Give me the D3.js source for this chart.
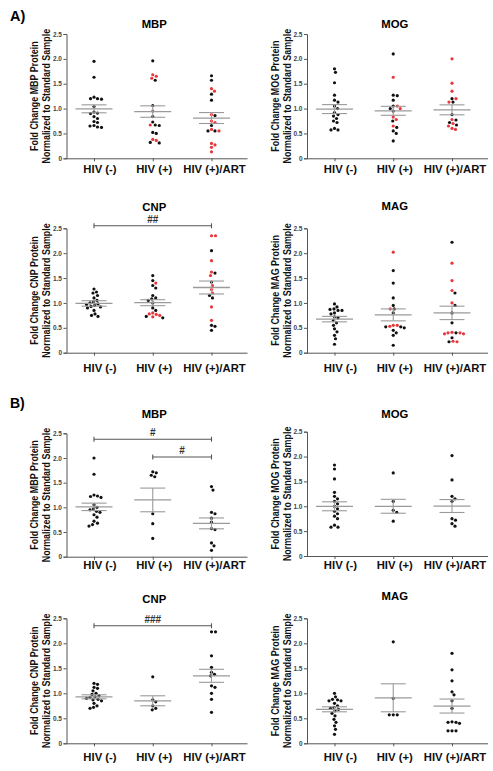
<!DOCTYPE html>
<html><head><meta charset="utf-8">
<script src="https://cdn.jsdelivr.net/npm/d3@7"></script>
<style>body{margin:0;background:#fff}svg{display:block}text{font-family:"Liberation Sans",Arial,sans-serif}</style>
</head><body><svg id="c" width="493" height="771"></svg>
<script>
const categories = ["HIV (-)", "HIV (+)", "HIV (+)/ART"];
const yTicks = [0, 0.5, 1.0, 1.5, 2.0, 2.5];
const yTickLabels = ["0", "0.5", "1.0", "1.5", "2.0", "2.5"];

// Panel A
const aMBP_black = [[1.95,1.63,1.23,1.2,1.2,1.19,1.04,0.93,0.91,0.9,0.84,0.8,0.74,0.72,0.66,0.65,0.63,0.62],
                    [1.96,1.57,1.06,0.84,0.73,0.67,0.66,0.52,0.5,0.32,0.31],
                    [1.66,1.57,1.29,1.17,0.86,0.66,0.55,0.55]];
const aMBP_red   = [[], [1.68,1.65,1.61,0.95,0.67,0.38,0.36], [1.40,1.35,0.88,0.75,0.72,0.58,0.55,0.3,0.27,0.22,0.13]];
const aMBP_mean = [0.995, 0.94, 0.81];
const aMBP_sem  = [0.08, 0.115, 0.11];

const aMOG_black = [[1.8,1.73,1.52,1.27,1.17,1.13,1.05,1.0,0.92,0.88,0.85,0.8,0.75,0.72,0.6,0.57,0.57],
                    [2.1,1.27,1.26,1.17,1.05,1.0,0.95,0.75,0.62,0.55,0.5,0.35],
                    [1.2,1.13,0.88,0.77,0.72,0.67]];
const aMOG_red   = [[], [1.63,1.05,1.0,0.83,0.78,0.65], [2.0,1.51,1.35,1.2,1.13,0.78,0.7,0.65,0.6,0.58]];
const aMOG_mean = [0.99, 0.955, 0.975];
const aMOG_sem  = [0.09, 0.09, 0.1];

const aCNP_black = [[1.28,1.22,1.2,1.15,1.1,1.05,1.02,1.0,0.98,0.97,0.95,0.93,0.92,0.9,0.85,0.78,0.75,0.73],
                    [1.55,1.45,1.35,1.3,1.15,1.1,1.08,1.05,1.0,0.9,0.85,0.73,0.7],
                    [2.05,1.6,1.42,1.15,1.1,0.55,0.53,0.45]];
const aCNP_red   = [[], [1.4,0.8,0.78,0.77,0.75,0.72], [2.35,2.35,1.85,1.62,1.55,1.35,1.27,1.2,0.92,0.65]];
const aCNP_mean = [0.99, 1.005, 1.31];
const aCNP_sem  = [0.055, 0.06, 0.13];

const aMAG_black = [[0.98,0.92,0.88,0.87,0.85,0.85,0.8,0.78,0.72,0.7,0.65,0.6,0.55,0.48,0.42,0.35,0.28,0.17],
                    [1.65,1.4,1.1,0.95,0.88,0.8,0.52,0.52,0.5,0.45,0.4,0.35,0.15],
                    [2.22,1.2,0.95,0.8,0.6,0.4,0.3,0.22]];
const aMAG_red   = [[], [2.02,0.88,0.55,0.55,0.53], [1.8,1.45,1.25,1.0,0.4,0.38,0.38,0.4,0.41,0.23,0.22]];
const aMAG_mean = [0.675, 0.76, 0.80];
const aMAG_sem  = [0.055, 0.12, 0.135];

// Panel B
const bMBP_black = [[2.0,1.67,1.25,1.23,1.22,1.2,1.05,1.0,0.97,0.95,0.92,0.9,0.85,0.8,0.72,0.68,0.65,0.62],
                    [1.72,1.7,1.65,1.62,0.87,0.67,0.37],
                    [1.42,1.35,0.9,0.87,0.78,0.7,0.57,0.55,0.28,0.22,0.13]];
const bMBP_mean = [1.01, 1.15, 0.675];
const bMBP_sem  = [0.075, 0.24, 0.11];

const bMOG_black = [[1.83,1.75,1.55,1.28,1.2,1.15,1.1,1.05,1.0,0.95,0.9,0.85,0.8,0.75,0.62,0.58,0.58],
                    [1.67,1.1,0.92,0.88,0.7],
                    [2.02,1.53,1.2,1.15,1.1,0.75,0.72,0.65,0.6]];
const bMOG_mean = [1.0, 1.0, 1.005];
const bMOG_sem  = [0.09, 0.14, 0.13];

const bCNP_black = [[1.2,1.18,1.12,1.1,1.05,1.0,0.98,0.95,0.93,0.92,0.9,0.88,0.87,0.85,0.8,0.75,0.72,0.7],
                    [1.33,0.87,0.83,0.75,0.7,0.67],
                    [2.23,2.23,1.75,1.52,1.42,1.38,1.35,1.15,1.12,1.0,0.88,0.62]];
const bCNP_mean = [0.93, 0.85, 1.35];
const bCNP_sem  = [0.04, 0.1, 0.13];

const bMAG_black = [[1.0,0.93,0.88,0.87,0.85,0.85,0.8,0.75,0.72,0.7,0.68,0.65,0.6,0.55,0.48,0.42,0.35,0.28,0.18],
                    [2.03,0.9,0.57,0.57,0.57],
                    [1.8,1.47,1.25,1.03,0.97,0.85,0.7,0.43,0.42,0.4,0.42,0.25,0.25,0.25]];
const bMAG_mean = [0.68, 0.91, 0.745];
const bMAG_sem  = [0.05, 0.28, 0.14];

// significance brackets: [from, to, level, label]
const aCNP_sig = [[0, 2, 2.55, "##"]];
const bMBP_sig = [[0, 2, 2.38, "#"], [1, 2, 2.02, "#"]];
const bCNP_sig = [[0, 2, 2.35, "###"]];

const none = [[], [], []];
const panels = [
  {t:"MBP", black:aMBP_black, red:aMBP_red, mean:aMBP_mean, sem:aMBP_sem, sig:[], side:0, top:34, bot:158.3, ty:28.3, ly:173.3},
  {t:"MOG", black:aMOG_black, red:aMOG_red, mean:aMOG_mean, sem:aMOG_sem, sig:[], side:1, top:34, bot:158.3, ty:28.3, ly:173.3},
  {t:"CNP", black:aCNP_black, red:aCNP_red, mean:aCNP_mean, sem:aCNP_sem, sig:aCNP_sig, side:0, top:228.3, bot:352.7, ty:211, ly:371.7},
  {t:"MAG", black:aMAG_black, red:aMAG_red, mean:aMAG_mean, sem:aMAG_sem, sig:[], side:1, top:228.3, bot:352.7, ty:209.5, ly:371.7},
  {t:"MBP", black:bMBP_black, red:none, mean:bMBP_mean, sem:bMBP_sem, sig:bMBP_sig, side:0, top:433.3, bot:556.7, ty:417.7, ly:569},
  {t:"MOG", black:bMOG_black, red:none, mean:bMOG_mean, sem:bMOG_sem, sig:[], side:1, top:431.7, bot:556, ty:417.7, ly:569},
  {t:"CNP", black:bCNP_black, red:none, mean:bCNP_mean, sem:bCNP_sem, sig:bCNP_sig, side:0, top:618.3, bot:743.3, ty:602.7, ly:761},
  {t:"MAG", black:bMAG_black, red:none, mean:bMAG_mean, sem:bMAG_sem, sig:[], side:1, top:618.3, bot:743.3, ty:600, ly:761}
];

const svg = d3.select("#c");
const RED = "#e8373a", GREY = "#9a9a9a", AX = "#555";
const axisX0 = [66.5, 307], axisW = 181;
const ylabX = [[34, 46], [275, 287]];
const labelShift = [6, 1.5, 3];

svg.append("text").attr("x", 10).attr("y", 20.7).attr("font-size", 14.5).attr("font-weight", "bold").text("A)");
svg.append("text").attr("x", 10).attr("y", 408.3).attr("font-size", 14).attr("font-weight", "bold").text("B)");

function swarm(items, y, cx) {
  const placed = [];
  const sorted = items.slice().sort((a, b) => b.v - a.v);
  const D = 3.6;
  sorted.forEach(it => {
    const py = y(it.v);
    let best = 0;
    for (let k = 0; k < 200; k++) {
      const off = (k % 2 ? 1 : -1) * Math.ceil(k / 2) * 0.5;
      const ok = placed.every(p => (p.px - (cx + off)) ** 2 + (p.py - py) ** 2 >= D * D);
      if (ok) { best = off; break; }
    }
    placed.push({px: cx + best, py, c: it.c});
  });
  return placed;
}

panels.forEach(p => {
  const x0 = axisX0[p.side];
  const g = svg.append("g").attr("transform", `translate(${x0},0)`);
  const y = d3.scaleLinear().domain([0, 2.5]).range([p.bot, p.top]);
  const x = d3.scalePoint().domain(categories).range([27.5, 145]);

  const ya = g.append("g").call(d3.axisLeft(y).tickValues(yTicks).tickFormat((d, i) => yTickLabels[i]).tickSize(3).tickPadding(1.5));
  ya.select(".domain").attr("stroke", AX).attr("stroke-width", 1);
  ya.selectAll(".tick line").attr("stroke", AX);
  ya.selectAll("text").attr("font-size", 6.5).attr("font-weight", "bold").attr("fill", "#444").attr("font-family", "Liberation Sans, Arial, sans-serif");

  const xa = g.append("g").attr("transform", `translate(0,${p.bot})`).call(d3.axisBottom(x).tickSize(3).tickFormat(""));
  xa.select(".domain").remove();
  xa.selectAll(".tick line").attr("stroke", AX);
  g.append("line").attr("x1", 0).attr("x2", axisW).attr("y1", p.bot + 0.5).attr("y2", p.bot + 0.5).attr("stroke", AX).attr("stroke-width", 1);
  g.selectAll(".xl").data(categories).enter().append("text")
    .attr("x", (d, i) => x(d) + labelShift[i]).attr("y", p.ly).attr("text-anchor", "middle")
    .attr("font-size", 11.3).attr("font-weight", "bold").attr("fill", "#111").text(d => d);

  g.append("text").attr("x", x(categories[1]) + 1.5).attr("y", p.ty).attr("text-anchor", "middle")
    .attr("font-size", 11.3).attr("font-weight", "bold").text(p.t);

  const yl = ylabX[p.side], ym = (p.top + p.bot) / 2;
  [["Fold Change " + p.t + " Protein", yl[0]], ["Normalized to Standard Sample", yl[1]]].forEach(([s, lx]) => {
    svg.append("text").attr("transform", `translate(${lx},${ym}) rotate(-90) scale(0.86,1)`).attr("text-anchor", "middle")
      .attr("dominant-baseline", "central").attr("font-size", 10.4).attr("font-weight", "bold").attr("fill", "#111").text(s);
  });

  categories.forEach((c, i) => {
    const items = p.black[i].map(v => ({v, c: "#111"})).concat(p.red[i].map(v => ({v, c: RED})));
    const pts = swarm(items, y, x(c));
    g.selectAll(null).data(pts).enter().append("circle")
      .attr("cx", d => d.px).attr("cy", d => d.py).attr("r", 1.6).attr("fill", d => d.c);
    const cx = x(c), m = p.mean[i], s = p.sem[i];
    g.append("line").attr("x1", cx - 18.5).attr("x2", cx + 18.5).attr("y1", y(m)).attr("y2", y(m)).attr("stroke", GREY).attr("stroke-width", 1.3);
    [m - s, m + s].forEach(v => g.append("line").attr("x1", cx - 12.5).attr("x2", cx + 12.5).attr("y1", y(v)).attr("y2", y(v)).attr("stroke", GREY).attr("stroke-width", 1.1));
    g.append("line").attr("x1", cx).attr("x2", cx).attr("y1", y(m - s)).attr("y2", y(m + s)).attr("stroke", GREY).attr("stroke-width", 1.1);
  });

  p.sig.forEach(([a, b, lv, lab]) => {
    const xa1 = x(categories[a]), xb1 = x(categories[b]), yy = y(lv);
    g.append("line").attr("x1", xa1).attr("x2", xb1).attr("y1", yy).attr("y2", yy).attr("stroke", AX).attr("stroke-width", 1.1);
    [xa1, xb1].forEach(xx => g.append("line").attr("x1", xx).attr("x2", xx).attr("y1", yy - 2.5).attr("y2", yy + 2.5).attr("stroke", AX).attr("stroke-width", 1.1));
    g.append("text").attr("x", (xa1 + xb1) / 2).attr("y", yy - 3).attr("text-anchor", "middle")
      .attr("font-size", 10).attr("font-weight", "bold").attr("fill", "#333").text(lab);
  });
});
</script></body></html>
